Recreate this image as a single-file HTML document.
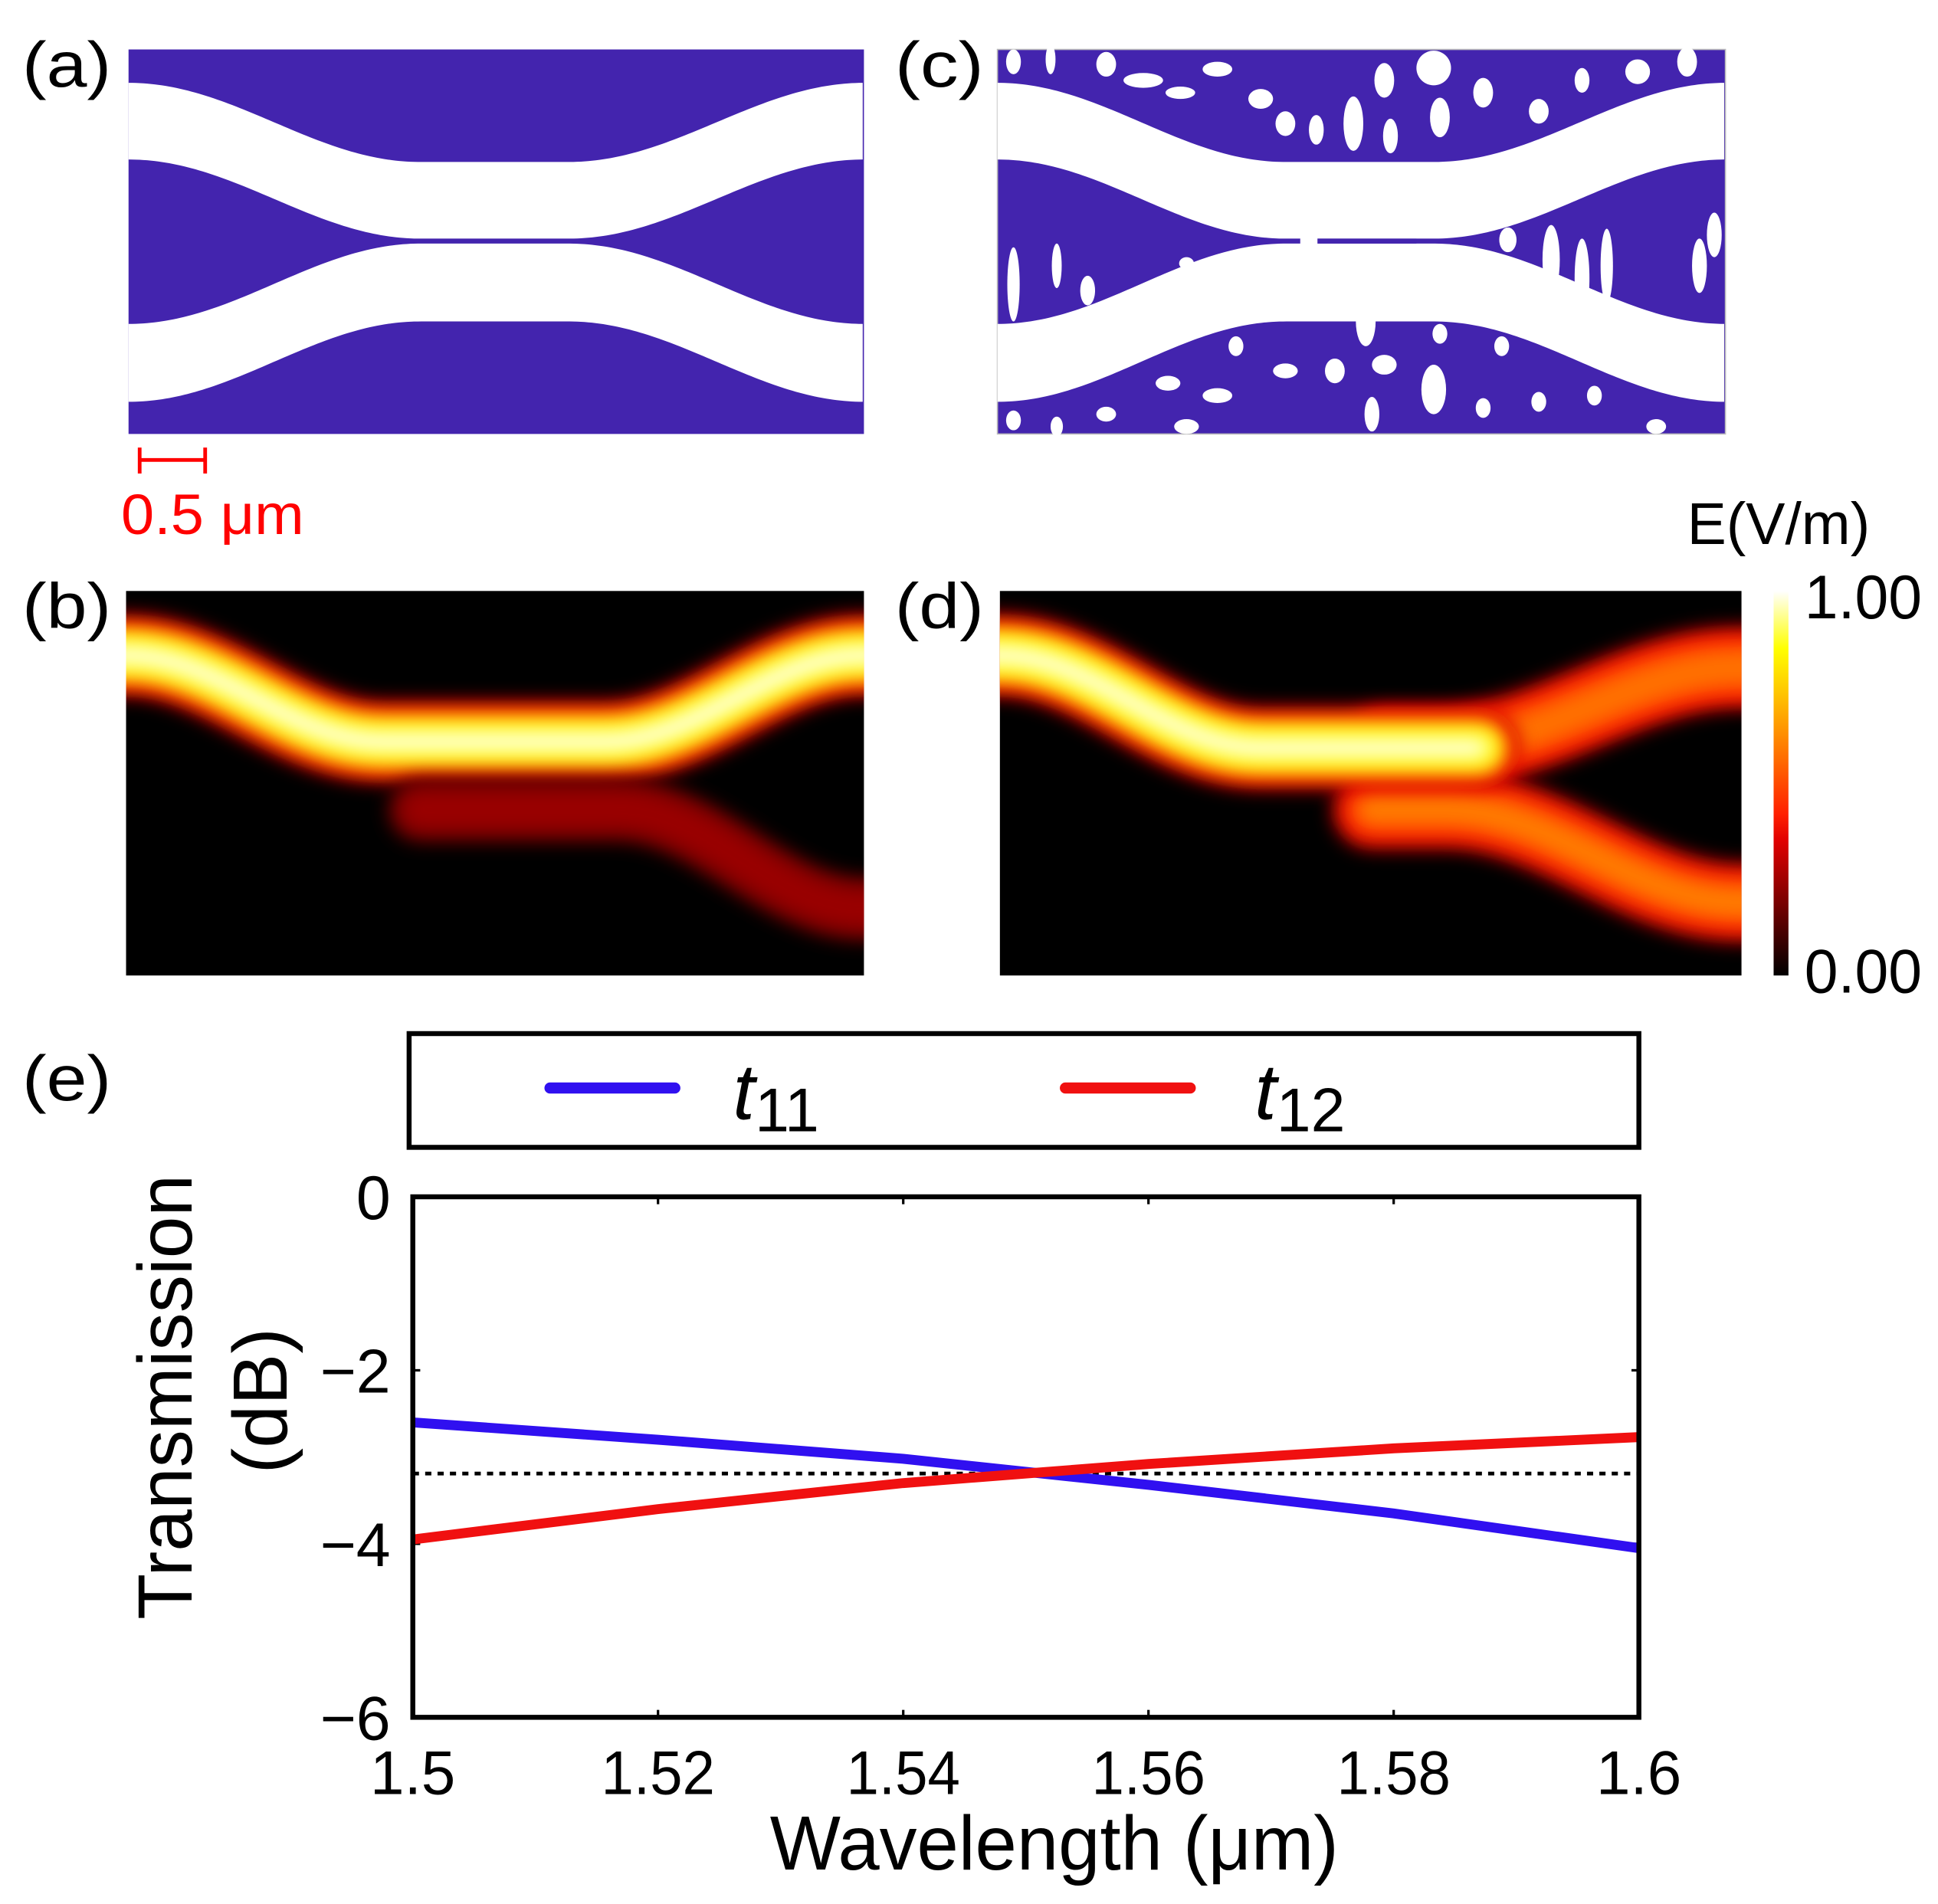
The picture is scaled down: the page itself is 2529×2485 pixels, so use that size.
<!DOCTYPE html>
<html><head><meta charset="utf-8"><style>
html,body{margin:0;padding:0;background:#fff}
svg{display:block}
text{font-family:"Liberation Sans",sans-serif}
</style></head><body>
<svg id="fig" width="2529" height="2485" viewBox="0 0 1568 1540" preserveAspectRatio="none" xmlns="http://www.w3.org/2000/svg">
<defs>
<filter id="blur" filterUnits="userSpaceOnUse" x="0" y="0" width="1568" height="1540"><feGaussianBlur stdDeviation="8"/></filter>
<clipPath id="clipb"><rect x="102" y="478" width="597" height="311"/></clipPath>
<clipPath id="clipd"><rect x="809" y="478" width="600" height="311"/></clipPath>
<linearGradient id="cmap" x1="0" y1="1" x2="0" y2="0">
<stop offset="0" stop-color="#000"/><stop offset="0.35" stop-color="#e00000"/><stop offset="0.42" stop-color="#ff2000"/><stop offset="0.65" stop-color="#ff9a00"/><stop offset="0.85" stop-color="#ffff00"/><stop offset="1" stop-color="#ffffff"/>
</linearGradient>
</defs>
<g id="panelA"><rect x="104" y="40" width="595" height="311" fill="#4324ae"/></g>
<g id="panelC"><rect x="807" y="40" width="589" height="311" fill="#4324ae" stroke="#bbb" stroke-width="1"/></g>
<g><rect x="102" y="478" width="597" height="311" fill="#000"/><g id="fb" clip-path="url(#clipb)"></g></g>
<g><rect x="809" y="478" width="600" height="311" fill="#000"/><g id="fd" clip-path="url(#clipd)"></g></g>
<rect x="1435" y="478" width="12" height="311" fill="url(#cmap)"/>
<text x="1460" y="500" font-size="50" textLength="95" lengthAdjust="spacingAndGlyphs">1.00</text>
<text x="1460" y="803" font-size="50" textLength="95" lengthAdjust="spacingAndGlyphs">0.00</text>
<text x="1365" y="440" font-size="48" textLength="148" lengthAdjust="spacingAndGlyphs">E(V/m)</text>
<text x="18" y="70" font-size="52" textLength="72" lengthAdjust="spacingAndGlyphs">(a)</text>
<text x="724" y="70" font-size="52" textLength="72" lengthAdjust="spacingAndGlyphs">(c)</text>
<text x="18" y="508" font-size="52" textLength="72" lengthAdjust="spacingAndGlyphs">(b)</text>
<text x="724" y="508" font-size="52" textLength="72" lengthAdjust="spacingAndGlyphs">(d)</text>
<text x="18" y="890" font-size="52" textLength="72" lengthAdjust="spacingAndGlyphs">(e)</text>
<g stroke="#f00" stroke-width="3"><line x1="113" y1="372" x2="166" y2="372"/><line x1="113" y1="362" x2="113" y2="383"/><line x1="166" y1="362" x2="166" y2="383"/></g>
<text x="98" y="432" font-size="46" fill="#f00" textLength="148" lengthAdjust="spacingAndGlyphs">0.5 μm</text>
<g>
<rect x="331" y="836" width="995" height="92" fill="#fff" stroke="#000" stroke-width="4"/>
<line x1="445" y1="880" x2="546" y2="880" stroke="#3010f0" stroke-width="9" stroke-linecap="round"/>
<text x="593" y="905" font-size="64" font-style="italic">t<tspan font-style="normal" font-size="50" dy="10">11</tspan></text>
<line x1="862" y1="880" x2="963" y2="880" stroke="#f01010" stroke-width="9" stroke-linecap="round"/>
<text x="1015" y="905" font-size="64" font-style="italic">t<tspan font-style="normal" font-size="50" dy="10">12</tspan></text>
</g>
<g id="chart"></g>
<text x="853" y="1512" font-size="62" text-anchor="middle" textLength="460" lengthAdjust="spacingAndGlyphs">Wavelength (μm)</text>
<text transform="translate(155,1130) rotate(-90)" font-size="62" text-anchor="middle" textLength="360" lengthAdjust="spacingAndGlyphs">Transmission</text>
<text transform="translate(232,1133) rotate(-90)" font-size="62" text-anchor="middle" textLength="118" lengthAdjust="spacingAndGlyphs">(dB)</text>
</svg>
<script>
const NS='http://www.w3.org/2000/svg';
const wavelengths=[1.5,1.52,1.54,1.56,1.58,1.6];
const t11=[-2.6,-2.8,-3.02,-3.32,-3.65,-4.05];
const t12=[-3.95,-3.6,-3.3,-3.08,-2.9,-2.77];
const refLevel=[-3.19];
const xTicks=[1.5,1.52,1.54,1.56,1.58,1.6];
const xTickLabels=['1.5','1.52','1.54','1.56','1.58','1.6'];
const yTicks=[0,-2,-4,-6];
const yTickLabels=['0','\u22122','\u22124','\u22126'];
function mk(tag,attrs,parent){const e=document.createElementNS(NS,tag);for(const k in attrs)e.setAttribute(k,attrs[k]);parent.appendChild(e);return e;}
const X0=334,X1=1326,Y0=968,Y1=1389;
const sx=v=>X0+(v-1.5)/(0.1)*(X1-X0);
const sy=v=>Y0+(0-v)/6*(Y1-Y0);
const chart=document.getElementById('chart');
mk('rect',{x:X0,y:Y0,width:X1-X0,height:Y1-Y0,fill:'#fff'},chart);
xTicks.forEach((t,i)=>{
  const l=mk('line',{x1:sx(t),x2:sx(t),y1:Y1,y2:Y1-6,stroke:'#000','stroke-width':2},chart);
  
  
  mk('line',{x1:sx(t),x2:sx(t),y1:Y0,y2:Y0+6,stroke:'#000','stroke-width':2},chart);
  const lab=xTickLabels[i];
  const tx=mk('text',{x:sx(t),y:Y1+62,'font-size':50,'text-anchor':'middle',textLength:lab.length*23,lengthAdjust:'spacingAndGlyphs'},chart);
  
  
  tx.textContent=lab;
});
yTicks.forEach((t,i)=>{
  mk('line',{x1:X0,x2:X0+6,y1:sy(t),y2:sy(t),stroke:'#000','stroke-width':2},chart);
  mk('line',{x1:X1,x2:X1-6,y1:sy(t),y2:sy(t),stroke:'#000','stroke-width':2},chart);
  const tx=mk('text',{x:X0-18,y:sy(t)+18,'font-size':50,'text-anchor':'end'},chart);
  
  
  tx.textContent=yTickLabels[i];
});
const ref=mk('line',{x1:X0,x2:X1,y1:sy(refLevel[0]),y2:sy(refLevel[0]),stroke:'#000','stroke-width':3,'stroke-dasharray':'5 5'},chart);


function series(vals,color,name){
  const p=mk('polyline',{points:wavelengths.map((w,i)=>sx(w)+','+sy(vals[i])).join(' '),fill:'none',stroke:color,'stroke-width':8},chart);
  
  
}
series(t11,'#3010f0','t11-line');
series(t12,'#f01010','t12-line');
mk('rect',{x:X0,y:Y0,width:X1-X0,height:Y1-Y0,fill:'none',stroke:'#000','stroke-width':4},chart);
function bandPts(xa,xb,yOut,yIn,th,ta,tb){
  const top=[],bot=[];
  for(let x=xa;x<=xb+0.1;x+=3){
    let f;
    if(x<ta){const t=(x-xa)/(ta-xa);f=(1-Math.cos(Math.PI*t))/2;}
    else if(x>tb){const t=(xb-x)/(xb-tb);f=(1-Math.cos(Math.PI*t))/2;}
    else f=1;
    const y=yOut+(yIn-yOut)*f;
    top.push(x+','+y);bot.unshift(x+','+(y+th));
  }
  return top.concat(bot).join(' ');
}
function drawDesign(g,xa,xb,ta,tb){
  mk('polygon',{points:bandPts(xa,xb,67,131,62,ta,tb),fill:'#fff'},g);
  mk('polygon',{points:bandPts(xa,xb,262,197,63,ta,tb),fill:'#fff'},g);
}
const gA=document.getElementById('panelA');drawDesign(gA,104,699,340,460);
const gC=document.getElementById('panelC');
const blobs=[[820,50,6,10],[850,48,4,12],[895,52,8,10],[925,65,16,6],[955,75,12,5],[985,56,12,6],[1020,80,10,8],[1040,100,8,10],[1065,105,6,12],[1095,100,8,22],[1120,65,8,14],[1125,110,6,14],[1160,55,14,14],[1165,95,8,16],[1200,75,8,12],[1245,90,8,10],[1280,65,6,10],[1325,58,10,10],[1365,50,8,12],
[880,235,6,12],[855,215,4,18],[820,230,5,30],[960,213,6,5],[1220,194,7,10],[1255,210,7,28],[1280,225,6,32],[1300,215,5,30],[1375,215,6,22],[1387,190,6,18],
[1105,260,8,20],[1120,295,10,8],[1080,300,8,10],[1040,300,10,6],[985,320,12,6],[945,310,10,6],[1000,280,6,8],[1160,315,10,20],[1200,330,6,8],[1245,325,6,8],[1290,320,6,8],[820,340,6,8],[855,345,5,8],[895,335,8,6],[960,345,10,6],[1110,335,6,14],[1165,270,6,8],[1215,280,6,8],[1340,345,8,6]];
blobs.forEach(b=>{mk('ellipse',{cx:b[0],cy:b[1],rx:b[2],ry:b[3],fill:'#fff'},gC);});
drawDesign(gC,807,1396,1040,1160);
mk('rect',{x:1052,y:190,width:14,height:10,fill:'#fff'},gC);
mk('rect',{x:1066,y:193,width:80,height:4,fill:'#4324ae'},gC);
function curve(xa,xb,y1,y2,ta,tb,y3){
  const pts=[];
  for(let x=xa-40;x<=xb+40;x+=4){
    let y;
    if(x<ta){const t=Math.max(0,(x-xa)/(ta-xa));y=y1+(y2-y1)*(1-Math.cos(Math.PI*t))/2;}
    else if(x>tb){const t=Math.min(1,(x-tb)/(xb-tb));y=y2+(y3-y2)*(1-Math.cos(Math.PI*t))/2;}
    else y=y2;
    pts.push(x+','+y);
  }
  return 'M'+pts.join(' L');
}
function glow(g,d,layers){
  layers.forEach(l=>mk('path',{d:d,fill:'none',stroke:l[0],'stroke-width':l[1],filter:'url(#blur)','stroke-linecap':'round'},g));
}
const gB=document.getElementById('fb');
glow(gB,curve(102,699,530,600,310,490,530),[['#c00000',64],['#ff1a00',52],['#ffa000',42],['#ffff00',34],['#ffffee',16]]);
glow(gB,curve(380,699,655,655,380,500,735),[['#6a0000',50],['#9a0000',34]]);
const gD=document.getElementById('fd');
glow(gD,curve(1160,1409,605,605,1160,1160,540),[['#d00000',64],['#ff2000',52],['#ff7000',34]]);
glow(gD,curve(1150,1409,655,655,1150,1170,730),[['#c00000',62],['#ff2000',50],['#ff7a00',30]]);
glow(gD,curve(809,1160,530,605,1020,1160,605),[['#d00000',64],['#ff1a00',52],['#ffb000',42],['#ffff00',34],['#ffffee',16]]);
</script>
</body></html>
